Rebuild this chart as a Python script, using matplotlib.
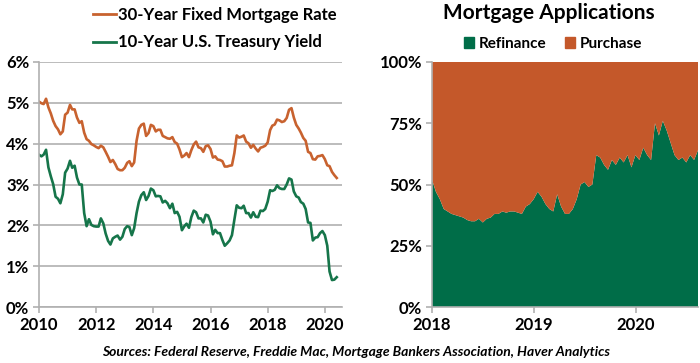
import matplotlib
matplotlib.use("Agg")
import matplotlib.pyplot as plt
from matplotlib.lines import Line2D
from matplotlib.patches import Patch
import numpy as np
import pandas as pd

plt.rcParams['font.family'] = ['Lato', 'DejaVu Sans']

# ---------------- Data ----------------
mortgage_rate = [
    5.03, 4.99, 4.97, 5.10, 4.89, 4.74, 4.56, 4.43, 4.35, 4.23, 4.30, 4.71,   # 2010
    4.76, 4.95, 4.84, 4.84, 4.64, 4.51, 4.55, 4.27, 4.11, 4.07, 3.99, 3.96,   # 2011
    3.92, 3.89, 3.95, 3.91, 3.80, 3.68, 3.55, 3.60, 3.50, 3.38, 3.35, 3.35,   # 2012
    3.41, 3.53, 3.57, 3.45, 3.54, 4.07, 4.37, 4.46, 4.49, 4.19, 4.26, 4.46,   # 2013
    4.43, 4.30, 4.34, 4.34, 4.19, 4.16, 4.13, 4.12, 4.16, 4.04, 4.00, 3.86,   # 2014
    3.67, 3.71, 3.77, 3.67, 3.84, 3.98, 4.05, 3.91, 3.89, 3.80, 3.94, 3.96,   # 2015
    3.87, 3.66, 3.69, 3.61, 3.60, 3.57, 3.44, 3.44, 3.46, 3.47, 3.77, 4.20,   # 2016
    4.15, 4.17, 4.20, 4.05, 4.01, 3.90, 3.97, 3.88, 3.81, 3.90, 3.92, 3.95,   # 2017
    4.03, 4.33, 4.44, 4.47, 4.59, 4.57, 4.53, 4.55, 4.63, 4.83, 4.87, 4.64,   # 2018
    4.46, 4.37, 4.27, 4.14, 4.07, 3.80, 3.77, 3.62, 3.61, 3.69, 3.70, 3.72,   # 2019
    3.62, 3.47, 3.45, 3.31, 3.23, 3.16,                                       # 2020
]
treasury_yield = [
    3.73, 3.69, 3.73, 3.85, 3.42, 3.20, 3.01, 2.70, 2.65, 2.54, 2.76, 3.29,
    3.39, 3.58, 3.41, 3.46, 3.17, 3.00, 3.00, 2.30, 1.98, 2.15, 2.01, 1.98,
    1.97, 1.97, 2.17, 2.05, 1.80, 1.62, 1.53, 1.68, 1.72, 1.75, 1.65, 1.72,
    1.91, 1.98, 1.96, 1.76, 1.93, 2.30, 2.58, 2.74, 2.81, 2.62, 2.72, 2.90,
    2.86, 2.71, 2.72, 2.71, 2.56, 2.60, 2.54, 2.42, 2.53, 2.30, 2.33, 2.21,
    1.88, 1.98, 2.04, 1.94, 2.20, 2.36, 2.32, 2.17, 2.17, 2.07, 2.26, 2.24,
    2.09, 1.78, 1.89, 1.81, 1.81, 1.64, 1.50, 1.56, 1.63, 1.76, 2.14, 2.49,
    2.43, 2.42, 2.48, 2.30, 2.30, 2.19, 2.32, 2.21, 2.20, 2.36, 2.35, 2.40,
    2.58, 2.86, 2.84, 2.87, 2.98, 2.91, 2.89, 2.89, 3.00, 3.15, 3.12, 2.83,
    2.71, 2.68, 2.57, 2.53, 2.40, 2.07, 2.06, 1.63, 1.70, 1.71, 1.81, 1.86,
    1.76, 1.50, 0.87, 0.66, 0.67, 0.73,
]
rate_dates = pd.date_range('2010-01-01', periods=len(mortgage_rate), freq='MS')

refinance_share = [
    52, 47, 44, 40, 39, 38, 37.5, 37, 36.5, 35.5, 35, 35, 36, 34.5, 36, 36.5,
    38, 38, 39, 38.5, 39, 39, 38.5, 38, 41, 42,                               # 2018
    44, 47, 45, 42, 40, 39, 46, 41, 38, 38, 40, 44, 50, 51, 49, 50,
    62, 61, 58, 56, 60, 58, 61, 59, 62, 57,                                   # 2019
    62, 60, 65, 62, 60, 75, 70, 76, 72, 67, 62, 60, 61, 59, 62, 60, 64,       # 2020
]
app_dates = pd.date_range('2018-01-01', periods=len(refinance_share), freq='14D')
purchase_share = [100 - v for v in refinance_share]

rate_labels = ['30-Year Fixed Mortgage Rate', '10-Year U.S. Treasury Yield']
app_labels = ['Refinance', 'Purchase']

ORANGE_LINE = '#C8622F'
GREEN_LINE = '#16754A'
ORANGE_AREA = '#C4582A'
GREEN_AREA = '#006D48'
GRID = '#B0B0B0'
TICK_FS = 12

def to_year(dates):
    return np.array([d.year + (d.dayofyear - 1) / 365.25 for d in dates])

fig = plt.figure(figsize=(7.0, 3.63), dpi=100)

# ---------------- Left panel ----------------
axL = fig.add_axes([39 / 700, 56 / 363, 303 / 700, 245 / 363])
xr = to_year(rate_dates)
axL.plot(xr, mortgage_rate, color=ORANGE_LINE, lw=1.9, label=rate_labels[0])
axL.plot(xr, treasury_yield, color=GREEN_LINE, lw=1.9, label=rate_labels[1])
axL.set_xlim(2010, 2020.6)
axL.set_ylim(0, 6)
axL.set_yticks(range(0, 7))
axL.set_yticklabels([f'{v}%' for v in range(0, 7)])
axL.set_xticks(range(2010, 2021, 2))
axL.set_xticklabels([str(y) for y in range(2010, 2021, 2)])
axL.grid(axis='y', color=GRID, lw=1.2)
axL.set_axisbelow(True)
for s in ['top', 'right']:
    axL.spines[s].set_visible(False)
for s in ['left', 'bottom']:
    axL.spines[s].set_color(GRID)
    axL.spines[s].set_linewidth(1.2)
axL.tick_params(axis='both', colors=GRID, length=4, width=1.2, labelsize=TICK_FS,
                labelcolor='black', pad=3)
for lab in axL.get_xticklabels() + axL.get_yticklabels():
    lab.set_fontweight('bold')

fig.legend(handles=[Line2D([], [], color=ORANGE_LINE, lw=2),
                    Line2D([], [], color=GREEN_LINE, lw=2)],
           labels=rate_labels, loc='upper left', bbox_to_anchor=(78 / 700, 1.022),
           frameon=False, handlelength=1.4, handletextpad=0.1, labelspacing=0.68,
           prop={'weight': 'bold', 'size': 12})

# ---------------- Right panel ----------------
axR = fig.add_axes([432 / 700, 56 / 363, 266 / 700, 245 / 363])
xa = to_year(app_dates)
axR.stackplot(xa, refinance_share, purchase_share, colors=[GREEN_AREA, ORANGE_AREA],
              labels=app_labels, lw=0)
axR.set_xlim(2018, xa[-1])
axR.set_ylim(0, 100)
axR.set_yticks([0, 25, 50, 75, 100])
axR.set_yticklabels(['0%', '25%', '50%', '75%', '100%'])
axR.set_xticks([2018, 2019, 2020])
axR.set_xticklabels(['2018', '2019', '2020'])
for s in ['top', 'right']:
    axR.spines[s].set_visible(False)
for s in ['left', 'bottom']:
    axR.spines[s].set_color(GRID)
    axR.spines[s].set_linewidth(1.2)
axR.tick_params(axis='both', colors=GRID, length=4, width=1.2, labelsize=TICK_FS,
                labelcolor='black', pad=3)
for lab in axR.get_xticklabels() + axR.get_yticklabels():
    lab.set_fontweight('bold')

fig.text(549 / 700, 1 - 13 / 363, 'Mortgage Applications', ha='center', va='center',
         fontsize=15, fontweight='bold')
fig.legend(handles=[Patch(color=GREEN_AREA), Patch(color=ORANGE_AREA)],
           labels=app_labels, loc='center', bbox_to_anchor=(553 / 700, 1 - 44 / 363),
           ncol=2, frameon=False, handlelength=0.7, handleheight=0.7,
           handletextpad=0.3, columnspacing=1.2,
           prop={'weight': 'bold', 'size': 11})

fig.text(356 / 700, 1 - 352 / 363,
         'Sources: Federal Reserve, Freddie Mac, Mortgage Bankers Association, Haver Analytics',
         ha='center', va='center', fontsize=10, fontweight='bold', style='italic')

fig.savefig('out.png', dpi=100)
